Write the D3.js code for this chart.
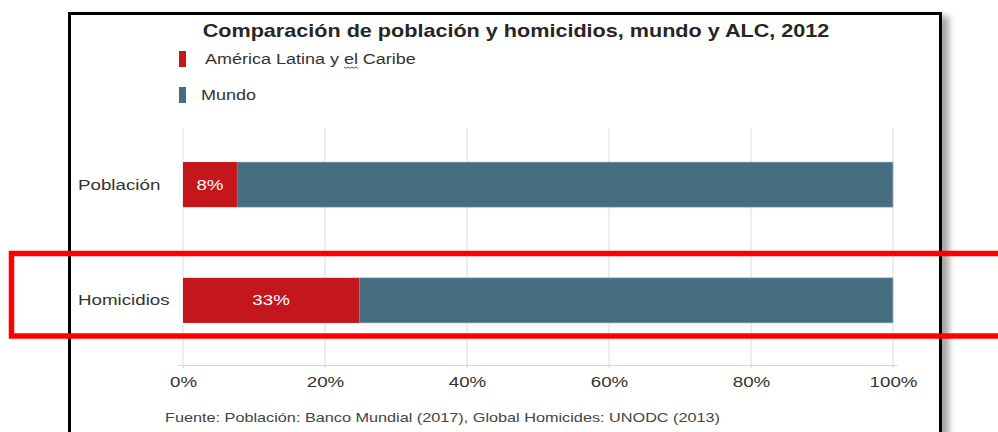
<!DOCTYPE html>
<html>
<head>
<meta charset="utf-8">
<script src="https://cdn.jsdelivr.net/npm/d3@7"></script>
<style>
  body { margin: 0; background: #fff; }
  svg { display: block; font-family: "Liberation Sans", Arial, sans-serif; }
</style>
</head>
<body>
<div id="chart"></div>
<script>
const title = 'Comparación de población y homicidios, mundo y ALC, 2012';
const categories = ['Población', 'Homicidios'];
const seriesNames = ['América Latina y el Caribe', 'Mundo'];
const alcShare = [0.076, 0.248];
const mundoShare = [0.924, 0.752];
const barLabels = ['8%', '33%'];
const tickValues = [0, 0.2, 0.4, 0.6, 0.8, 1];
const source = 'Fuente: Población: Banco Mundial (2017), Global Homicides: UNODC (2013)';

const colors = ['#c3161d', '#476d81'];
const width = 998;
const height = 432;
// the source image is stretched sideways, so text gets a horizontal scale
const wideTitle = 1.2;
const wideText = 1.25;

const svg = d3.select('#chart')
  .append('svg')
  .attr('width', width)
  .attr('height', height);

const addText = (g, x, y, str, sx) => g.append('text')
  .attr('transform', `translate(${x},${y}) scale(${sx},1)`)
  .text(str);

// shadow behind the framed box
const defs = svg.append('defs');
const shadow = defs.append('filter').attr('id', 'shadow')
  .attr('x', '-5%').attr('y', '-5%').attr('width', '115%').attr('height', '115%');
shadow.append('feDropShadow')
  .attr('dx', 7).attr('dy', 4).attr('stdDeviation', 3)
  .attr('flood-color', '#000').attr('flood-opacity', 0.35);

svg.append('rect')
  .attr('x', 69.5)
  .attr('y', 13.5)
  .attr('width', 871)
  .attr('height', 450)
  .attr('fill', '#fff')
  .attr('stroke', '#000')
  .attr('stroke-width', 3)
  .attr('filter', 'url(#shadow)');

addText(svg, 516, 37, title, wideTitle)
  .attr('text-anchor', 'middle')
  .attr('font-size', 18)
  .attr('font-weight', 'bold')
  .attr('fill', '#262626');

// legend
const legend = svg.append('g');
seriesNames.forEach((name, i) => {
  const ly = 59 + i * 36;
  legend.append('rect')
    .attr('x', 179)
    .attr('y', ly - 8)
    .attr('width', 7)
    .attr('height', 16)
    .attr('fill', colors[i]);
  const tx = i === 0 ? 205 : 201;
  const t = addText(legend, tx, ly + 5, name, wideTitle)
    .attr('font-size', 15)
    .attr('fill', '#333');
  if (i === 0) {
    // spellcheck squiggle under "el"
    const node = t.node();
    const start = name.indexOf(' el ') + 1;
    const x0 = tx + node.getSubStringLength(0, start) * wideTitle;
    const w = node.getSubStringLength(start, 2) * wideTitle;
    const pts = d3.range(0, w + 0.1, 2).map((d, k) => [x0 + d, ly + 8 + (k % 2 ? 1.2 : 0)]);
    legend.append('path')
      .attr('d', d3.line()(pts))
      .attr('fill', 'none')
      .attr('stroke', '#e02020')
      .attr('stroke-width', 1);
  }
});

const x = d3.scaleLinear().domain([0, 1]).range([183, 893]);
const y = d3.scaleBand().domain(categories).range([125, 360])
  .paddingInner(0.61).paddingOuter(0.32);

// gridlines
svg.append('g')
  .selectAll('line')
  .data(tickValues)
  .join('line')
  .attr('x1', d => x(d))
  .attr('x2', d => x(d))
  .attr('y1', 128)
  .attr('y2', 365)
  .attr('stroke', '#dcdcdc')
  .attr('stroke-width', 1);

const axis = svg.append('g')
  .attr('transform', 'translate(0,365)')
  .call(d3.axisBottom(x).tickValues(tickValues).tickFormat(d3.format('.0%')).tickSize(3).tickPadding(8));
axis.select('.domain').attr('stroke', '#d6d6d6').attr('d', 'M178,0.5H898');
axis.selectAll('.tick line').attr('stroke', '#d6d6d6');
axis.selectAll('.tick text')
  .attr('transform', `scale(${wideText},1)`)
  .attr('font-size', 15)
  .attr('font-family', '"Liberation Sans", Arial, sans-serif')
  .attr('fill', '#333');

// category labels
const catG = svg.append('g');
categories.forEach(c => {
  addText(catG, 78, y(c) + y.bandwidth() / 2 + 5, c, wideText)
    .attr('font-size', 15)
    .attr('fill', '#333');
});

// stacked bars
const rows = categories.map((c, i) => ({ cat: c, alc: alcShare[i], mundo: mundoShare[i], label: barLabels[i] }));
svg.append('g')
  .selectAll('rect')
  .data(rows)
  .join('rect')
  .attr('x', d => x(d.alc))
  .attr('y', d => y(d.cat))
  .attr('width', d => x(d.alc + d.mundo) - x(d.alc))
  .attr('height', y.bandwidth())
  .attr('fill', colors[1])
  .attr('stroke', '#a9c0cc')
  .attr('stroke-width', 0.6);

svg.append('g')
  .selectAll('rect')
  .data(rows)
  .join('rect')
  .attr('x', x(0))
  .attr('y', d => y(d.cat))
  .attr('width', d => x(d.alc) - x(0))
  .attr('height', y.bandwidth())
  .attr('fill', colors[0]);

const labG = svg.append('g');
rows.forEach(d => {
  addText(labG, (x(0) + x(d.alc)) / 2, y(d.cat) + y.bandwidth() / 2 + 5, d.label, wideText)
    .attr('text-anchor', 'middle')
    .attr('font-size', 15)
    .attr('fill', '#fff');
});

addText(svg, 165, 422, source, wideText)
  .attr('font-size', 13)
  .attr('fill', '#444');

// red highlight box around the Homicidios row
svg.append('rect')
  .attr('x', 11.5)
  .attr('y', 253.5)
  .attr('width', 1000)
  .attr('height', 82.5)
  .attr('fill', 'none')
  .attr('stroke', '#ff0000')
  .attr('stroke-width', 5.5);
</script>
</body>
</html>
